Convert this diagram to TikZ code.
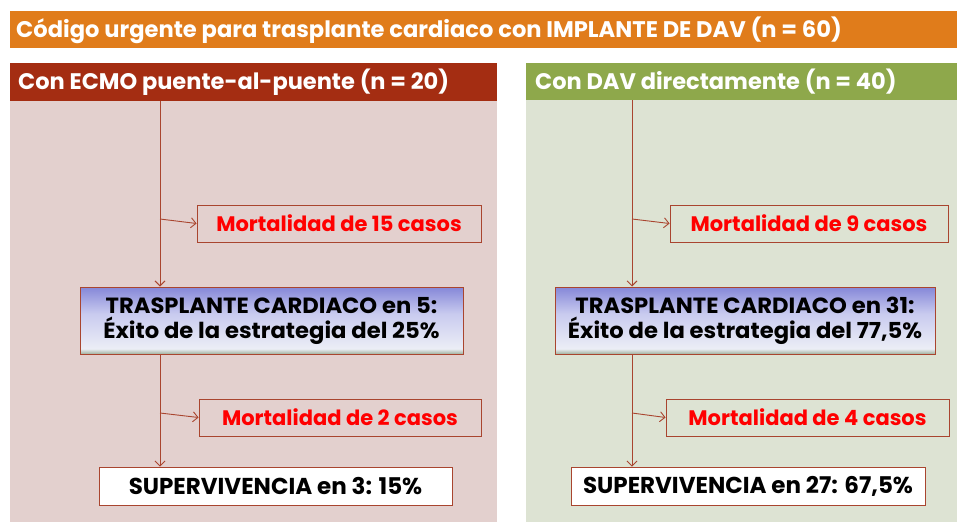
\documentclass[tikz,border=0pt]{standalone}
\usepackage{fontspec}
\setmainfont{Poppins}
\usetikzlibrary{arrows.meta}
\definecolor{titleor}{HTML}{E07C1B}
\definecolor{hdred}{HTML}{A42D12}
\definecolor{hdgreen}{HTML}{8EA84B}
\definecolor{pnred}{HTML}{E3D0CE}
\definecolor{pngreen}{HTML}{DDE3D3}
\definecolor{lnred}{HTML}{A9452F}
\definecolor{gT}{HTML}{8587D8}
\definecolor{gM}{HTML}{C9CBEF}
\definecolor{gW}{HTML}{ECEEF6}
\definecolor{gB}{HTML}{9FB19C}
\pgfdeclareverticalshading{trsh}{100bp}{color(0bp)=(gB); color(25bp)=(gB); color(29bp)=(gW); color(55bp)=(gM); color(75bp)=(gT); color(100bp)=(gT)}
\tikzset{
  mortbox/.style={draw=lnred, line width=0.9pt, fill=none, text=red, font=\fontsize{21}{24}\selectfont\bfseries, inner sep=0pt},
  trbox/.style={draw=lnred, line width=1pt, shading=trsh, font=\fontsize{22}{25}\selectfont\bfseries, inner sep=0pt, align=center},
  supbox/.style={draw=lnred, line width=0.9pt, fill=white, font=\fontsize{23}{26}\selectfont\bfseries, inner sep=0pt},
  flow/.style={draw=lnred, line width=0.9pt, -{Straight Barb[length=5pt,width=10pt]}},
  hdtext/.style={text=white, font=\fontsize{22.5}{25}\selectfont\bfseries, anchor=west, inner sep=0pt}
}
\begin{document}
\begin{tikzpicture}[x=1pt,y=-1pt]
\useasboundingbox (0,0) rectangle (957,522);
% title
\fill[titleor] (10,11) rectangle (957,47.5);
\node[text=white, font=\fontsize{22.6}{25}\selectfont\bfseries, anchor=west, inner sep=0pt] (title) at (16,30) {Código urgente para trasplante cardiaco con IMPLANTE DE DAV (n = 60)};
% panels
\fill[pnred] (10,101) rectangle (497,522);
\fill[hdred] (10,63) rectangle (497,101);
\fill[pngreen] (526,100) rectangle (957,522);
\fill[hdgreen] (526,63) rectangle (957,100);
\node[hdtext] (hl) at (18,82) {Con ECMO puente-al-puente (n = 20)};
\node[hdtext] (hr) at (535,82) {Con DAV directamente (n = 40)};
% left flow
\coordinate (ltop) at (160,101);
\coordinate (lb1) at (160,219);
\node[mortbox, minimum width=284pt, minimum height=37pt] (lm1) at (339,223.5) {Mortalidad de 15 casos};
\node[trbox, minimum width=383pt, minimum height=67pt] (lt) at (271.5,320.5) {\scalebox{1.03}[1]{TRASPLANTE CARDIACO en 5:}\\\scalebox{1.03}[1]{Éxito de la estrategia del 25\%}};
\coordinate (lb2) at (160,413);
\node[mortbox, minimum width=282pt, minimum height=37pt] (lm2) at (340,417.5) {Mortalidad de 2 casos};
\node[supbox, minimum width=353pt, minimum height=38pt] (ls) at (275.5,486) {SUPERVIVENCIA en 3: 15\%};
\draw[flow] (ltop) -- (lt.north -| ltop);
\draw[flow] (lb1) -- (lm1.west);
\draw[flow] (lt.south -| ltop) -- (ls.north -| ltop);
\draw[flow] (lb2) -- (lm2.west);
% right flow
\coordinate (rtop) at (632,100);
\coordinate (rb1) at (632,219);
\node[mortbox, minimum width=278pt, minimum height=37pt] (rm1) at (809,223.5) {Mortalidad de 9 casos};
\node[trbox, minimum width=380pt, minimum height=67pt] (rt) at (745,320.5) {\scalebox{1.03}[1]{TRASPLANTE CARDIACO en 31:}\\\scalebox{1.03}[1]{Éxito de la estrategia del 77,5\%}};
\coordinate (rb2) at (632,413);
\node[mortbox, minimum width=283pt, minimum height=37pt] (rm2) at (807.5,417.5) {Mortalidad de 4 casos};
\node[supbox, minimum width=354pt, minimum height=38pt] (rs) at (748,486) {SUPERVIVENCIA en 27: 67,5\%};
\draw[flow] (rtop) -- (rt.north -| rtop);
\draw[flow] (rb1) -- (rm1.west);
\draw[flow] (rt.south -| rtop) -- (rs.north -| rtop);
\draw[flow] (rb2) -- (rm2.west);
\end{tikzpicture}
\end{document}
